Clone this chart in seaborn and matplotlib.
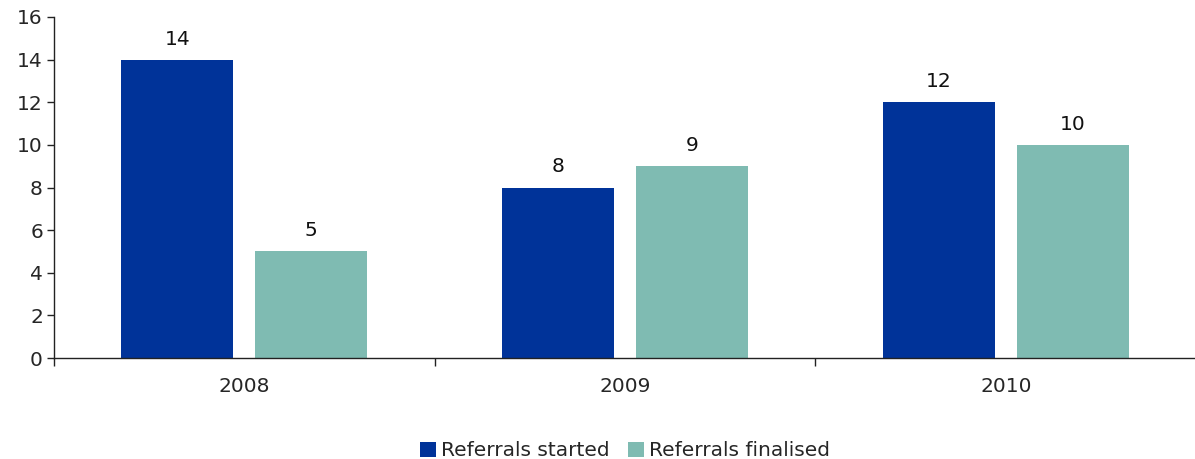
# Referrals started vs finalised, grouped bar chart

import matplotlib
matplotlib.use('Agg')
import matplotlib.pyplot as plt
import seaborn as sns
import pandas as pd
from matplotlib.ticker import FixedLocator, NullFormatter, FixedFormatter

# Data
years = ['2008', '2009', '2010']
started = [14, 8, 12]
finalised = [5, 9, 10]
series_names = ['Referrals started', 'Referrals finalised']
colours = ['#003399', '#7FBBB2']

df = pd.DataFrame({
    'year': years * 2,
    'value': started + finalised,
    'series': [series_names[0]] * 3 + [series_names[1]] * 3,
})

sns.set_style('white')
plt.rcParams['font.family'] = ['DejaVu Sans']
fs = 14.5

fig = plt.figure(figsize=(11.95, 4.59), dpi=100)
ax = fig.add_axes([54 / 1195, 1 - 358 / 459, 1 - 54 / 1195 + 0.001, (358 - 17) / 459])

sns.barplot(data=df, x='year', y='value', hue='series', palette=colours,
            width=0.704, gap=0.164, saturation=1, linewidth=0, ax=ax, legend=True)

for c in ax.containers:
    ax.bar_label(c, padding=8, fontsize=fs, color='#111111')

ax.set_ylim(0, 16)
ax.set_yticks(range(0, 17, 2))
ax.set_xlim(-0.5, 2.5)

# category boundaries as ticks, labels in the middle
ax.xaxis.set_major_locator(FixedLocator([-0.5, 0.5, 1.5, 2.5]))
ax.xaxis.set_major_formatter(NullFormatter())
ax.xaxis.set_minor_locator(FixedLocator([0, 1, 2]))
ax.xaxis.set_minor_formatter(FixedFormatter(years))
ax.tick_params(axis='x', which='major', direction='out', length=6, width=1, color='#222222', bottom=True)
ax.tick_params(axis='x', which='minor', length=0, pad=14, labelsize=fs, bottom=True)
ax.tick_params(axis='y', direction='out', length=5, width=1, color='#222222', left=True, labelsize=fs, pad=3)

ax.set_xlabel('')
ax.set_ylabel('')
for side in ['top', 'right']:
    ax.spines[side].set_visible(False)
for side in ['left', 'bottom']:
    ax.spines[side].set_color('#222222')
    ax.spines[side].set_linewidth(1)

ax.legend(loc='lower center', bbox_to_anchor=(0.5, -0.33), ncol=2, frameon=False,
          fontsize=fs, handlelength=0.8, handleheight=0.8, handletextpad=0.25,
          columnspacing=0.9, borderpad=0)

fig.savefig('out.png', dpi=100)
